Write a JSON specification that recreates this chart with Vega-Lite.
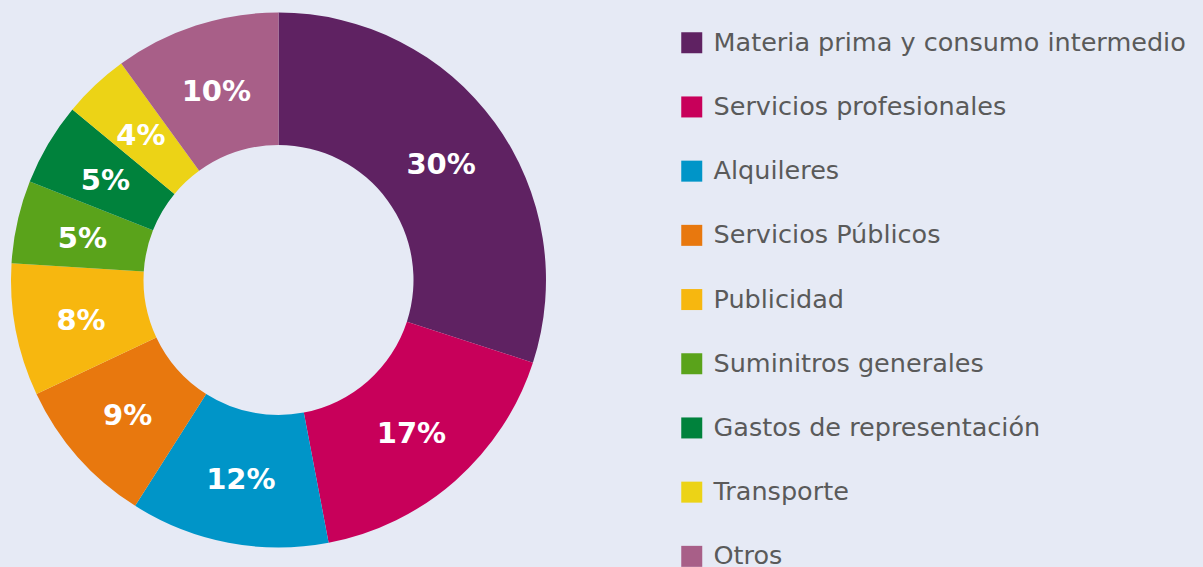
{
  "$schema": "https://vega.github.io/schema/vega-lite/v6.json",
  "width": 557,
  "height": 560,
  "autosize": {"type": "none"},
  "padding": {"left": 0, "top": 0, "right": 646, "bottom": 7},
  "background": "#e6eaf5",
  "config": {"view": {"stroke": null}},
  "data": {
    "values": [
      {"cat": "Materia prima y consumo intermedio", "val": 30, "label": "30%", "ord": 1},
      {"cat": "Servicios profesionales", "val": 17, "label": "17%", "ord": 2},
      {"cat": "Alquileres", "val": 12, "label": "12%", "ord": 3},
      {"cat": "Servicios Públicos", "val": 9, "label": "9%", "ord": 4},
      {"cat": "Publicidad", "val": 8, "label": "8%", "ord": 5},
      {"cat": "Suminitros generales", "val": 5, "label": "5%", "ord": 6},
      {"cat": "Gastos de representación", "val": 5, "label": "5%", "ord": 7},
      {"cat": "Transporte", "val": 4, "label": "4%", "ord": 8},
      {"cat": "Otros", "val": 10, "label": "10%", "ord": 9}
    ]
  },
  "encoding": {
    "theta": {"field": "val", "type": "quantitative", "stack": true},
    "order": {"field": "ord", "type": "quantitative"}
  },
  "layer": [
    {
      "mark": {"type": "arc", "outerRadius": 267.5, "innerRadius": 135},
      "encoding": {
        "color": {
          "field": "cat",
          "type": "nominal",
          "scale": {
            "domain": ["Materia prima y consumo intermedio", "Servicios profesionales", "Alquileres", "Servicios Públicos", "Publicidad", "Suminitros generales", "Gastos de representación", "Transporte", "Otros"],
            "range": ["#5f2262", "#c8005a", "#0095c8", "#e8780e", "#f7b70f", "#5aa31b", "#00823c", "#ecd316", "#a85f88"]
          },
          "legend": {
            "title": null,
            "orient": "none",
            "legendX": 679,
            "legendY": 30,
            "symbolType": "square",
            "symbolSize": 441,
            "symbolStrokeWidth": 0,
            "symbolOpacity": 1,
            "labelFontSize": 25.5,
            "labelFont": "DejaVu Sans",
            "labelColor": "#5a5a5a",
            "labelOffset": 9,
            "labelLimit": 600,
            "rowPadding": 37.2
          }
        }
      }
    },
    {
      "mark": {"type": "text", "radius": 201, "dy": 3, "fontSize": 29, "fontWeight": "bold", "font": "DejaVu Sans", "color": "white"},
      "encoding": {"text": {"field": "label", "type": "nominal"}}
    }
  ]
}
